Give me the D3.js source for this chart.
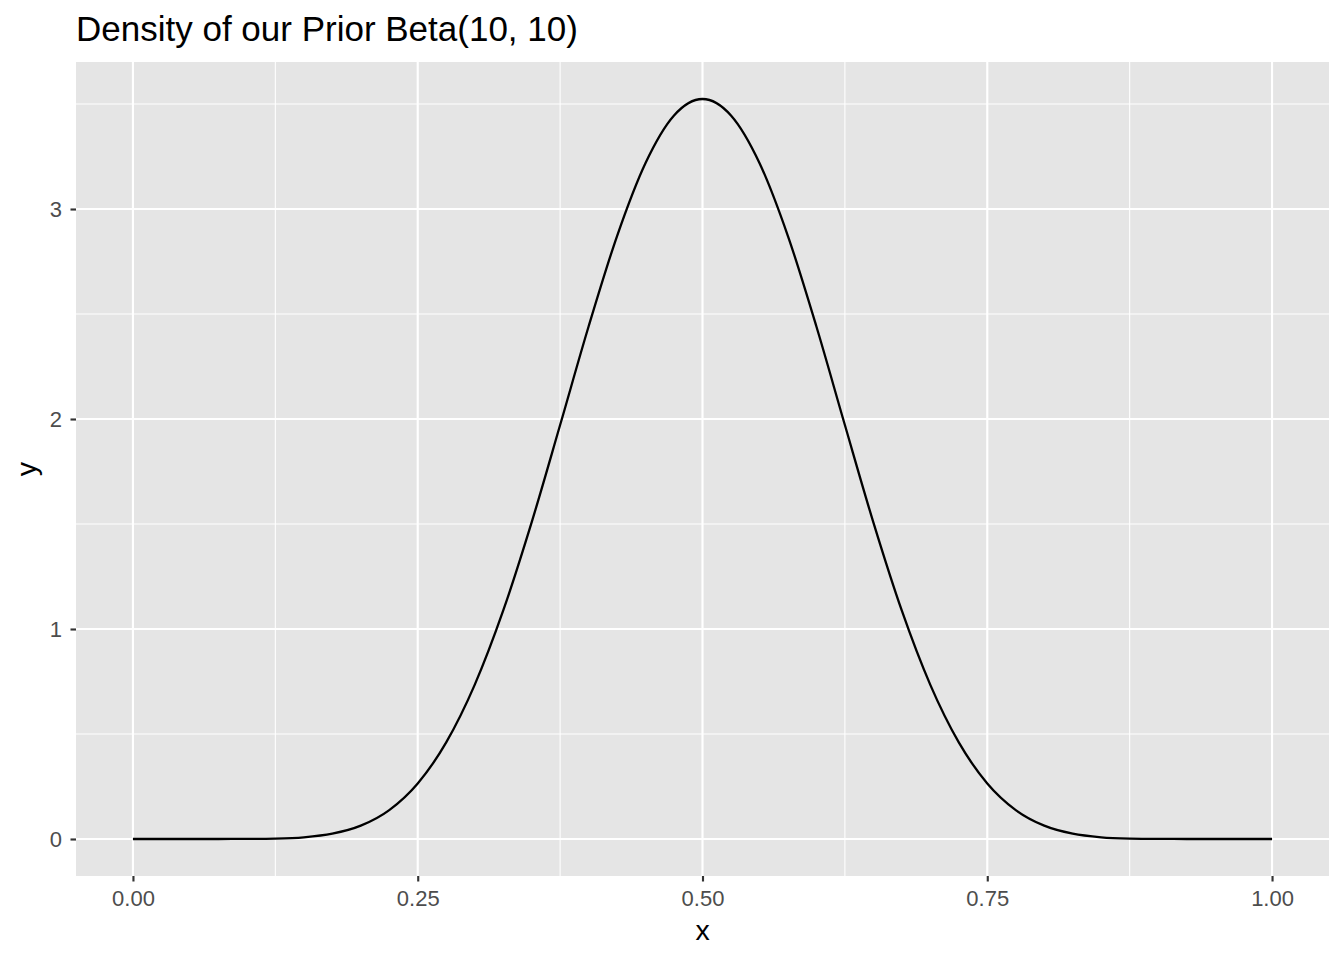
<!DOCTYPE html>
<html><head><meta charset="utf-8">
<script src="https://cdn.jsdelivr.net/npm/d3@7"></script>
<style>body{margin:0;background:#fff;} text{font-family:"Liberation Sans",Arial,sans-serif;}</style>
</head><body>
<svg id="c" width="1344" height="960"></svg>
<script>
const titleText = "Density of our Prior Beta(10, 10)";
const xValues = [0,0.025,0.05,0.075,0.1,0.125,0.15,0.175,0.2,0.225,0.25,0.275,0.3,0.325,0.35,0.375,0.4,0.425,0.45,0.475,0.5,
  0.525,0.55,0.575,0.6,0.625,0.65,0.675,0.7,0.725,0.75,0.775,0.8,0.825,0.85,0.875,0.9,0.925,0.95,0.975,1];
const yValues = [0,0,0,0.00004,0.0004,0.0021,0.0082,0.0252,0.0635,0.1377,0.2646,0.4598,0.7338,1.087,1.5079,1.9713,2.4404,2.8713,3.2192,3.4454,3.5239,
  3.4454,3.2192,2.8713,2.4404,1.9713,1.5079,1.087,0.7338,0.4598,0.2646,0.1377,0.0635,0.0252,0.0082,0.0021,0.0004,0.00004,0,0,0];
const xTicks = [0,0.25,0.5,0.75,1];
const xTickLabels = ["0.00","0.25","0.50","0.75","1.00"];
const xMinor = [0.125,0.375,0.625,0.875];
const yTicks = [0,1,2,3];
const yMinor = [0.5,1.5,2.5,3.5];

const svg = d3.select("#c");
const L=76, R=1329, T=62, B=876;
const x = d3.scaleLinear().domain([-0.05,1.05]).range([L,R]);
const ymax = d3.max(yValues);
const y = d3.scaleLinear().domain([-0.05*ymax, ymax*1.05]).range([B,T]);

svg.append("rect").attr("x",L).attr("y",T).attr("width",R-L).attr("height",B-T).attr("fill","#E5E5E5");
const g = svg.append("g");
yMinor.forEach(v=>g.append("line").attr("x1",L).attr("x2",R).attr("y1",y(v)).attr("y2",y(v)).attr("stroke","#fff").attr("stroke-width",1.07));
xMinor.forEach(v=>g.append("line").attr("y1",T).attr("y2",B).attr("x1",x(v)).attr("x2",x(v)).attr("stroke","#fff").attr("stroke-width",1.07));
yTicks.forEach(v=>g.append("line").attr("x1",L).attr("x2",R).attr("y1",y(v)).attr("y2",y(v)).attr("stroke","#fff").attr("stroke-width",2.13));
xTicks.forEach(v=>g.append("line").attr("y1",T).attr("y2",B).attr("x1",x(v)).attr("x2",x(v)).attr("stroke","#fff").attr("stroke-width",2.13));

const pts = xValues.map((d,i)=>[d,yValues[i]]);
svg.append("path").datum(pts).attr("fill","none").attr("stroke","#000").attr("stroke-width",2.3)
  .attr("d", d3.line().x(d=>x(d[0])).y(d=>y(d[1])).curve(d3.curveMonotoneX));

// axes
const xa = svg.append("g").attr("transform",`translate(0,${B})`)
  .call(d3.axisBottom(x).tickValues(xTicks).tickFormat((d,i)=>xTickLabels[i]).tickSize(5.5).tickPadding(8.5));
const ya = svg.append("g").attr("transform",`translate(${L},0)`)
  .call(d3.axisLeft(y).tickValues(yTicks).tickFormat(d3.format("d")).tickSize(5.5).tickPadding(8.5));
[xa,ya].forEach(a=>{
  a.select(".domain").remove();
  a.selectAll(".tick line").attr("stroke","#333").attr("stroke-width",2.13);
  a.selectAll(".tick text").attr("fill","#4D4D4D").style("font-size","22px").style("font-family","Liberation Sans, Arial, sans-serif");
});

svg.append("text").attr("x",(L+R)/2).attr("y",940).attr("text-anchor","middle").attr("fill","#000").style("font-size","28.5px").text("x");
svg.append("text").attr("transform",`translate(35.5,${(T+B)/2}) rotate(-90)`).attr("text-anchor","middle").attr("fill","#000").style("font-size","28.5px").text("y");
svg.append("text").attr("x",L).attr("y",41).attr("fill","#000").style("font-size","35px").text(titleText);
</script>
</body></html>
